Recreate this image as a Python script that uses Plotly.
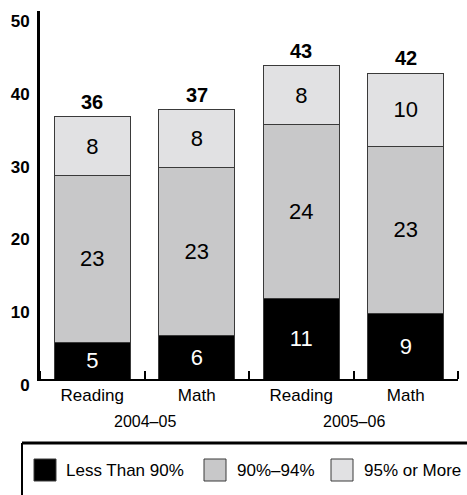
import plotly.graph_objects as go

# Categories and series
subjects = ["Reading", "Math", "Reading", "Math"]
years = ["2004–05", "2005–06"]
series_names = ["Less Than 90%", "90%–94%", "95% or More"]
less_than_90 = [5, 6, 11, 9]
pct_90_94 = [23, 23, 24, 23]
pct_95_up = [8, 8, 8, 10]
totals = [36, 37, 43, 42]
y_ticks = [0, 10, 20, 30, 40, 50]

colors = ["#000000", "#c8c8c9", "#e1e1e3"]
text_colors = ["#ffffff", "#000000", "#000000"]
FONT = "Liberation Sans, Arial, sans-serif"

W, H = 467, 495
L, R, T, B = 40, 9, 11, 116
plot_w = W - L - R
plot_h = H - T - B

x_pos = list(range(len(subjects)))
fig = go.Figure()
for name, vals, col, tcol in zip(series_names, [less_than_90, pct_90_94, pct_95_up], colors, text_colors):
    fig.add_trace(go.Bar(
        x=x_pos, y=vals, name=name, width=0.73,
        marker=dict(color=col, line=dict(color="#3a3a3a", width=1)),
        text=[str(v) for v in vals], textposition="inside",
        insidetextanchor="middle", constraintext="none",
        textfont=dict(family=FONT, size=22, color=tcol),
        showlegend=False, hoverinfo="skip",
    ))

# Totals above each bar
for xi, t in zip(x_pos, totals):
    fig.add_annotation(x=xi, y=t, text=f"<b>{t}</b>", showarrow=False,
                       yanchor="bottom", yshift=2,
                       font=dict(family=FONT, size=20, color="#000"))

# Year group labels
for i, yr in enumerate(years):
    fig.add_annotation(x=2 * i + 0.5, y=0, yref="y", text=yr, showarrow=False,
                       yanchor="middle", yshift=-42,
                       font=dict(family=FONT, size=16, color="#000"))

# Legend drawn as a framed strip below the chart
def px_x(px):
    return (px - L) / plot_w

def px_y(py):
    return (H - B - py) / plot_h

shapes = [
    dict(type="line", xref="paper", yref="paper", x0=px_x(22), x1=px_x(475),
         y0=px_y(443), y1=px_y(443), line=dict(color="#000", width=3)),
    dict(type="line", xref="paper", yref="paper", x0=px_x(22), x1=px_x(22),
         y0=px_y(443), y1=px_y(500), line=dict(color="#000", width=2)),
]
legend_boxes = [34, 204, 331]
legend_text_x = [64, 235, 362]
for bx, tx, name, col in zip(legend_boxes, legend_text_x, series_names, colors):
    shapes.append(dict(type="rect", xref="paper", yref="paper",
                       x0=px_x(bx), x1=px_x(bx + 22), y0=px_y(459), y1=px_y(481),
                       fillcolor=col, line=dict(color="#3a3a3a", width=1)))
    fig.add_annotation(xref="paper", yref="paper", x=px_x(tx), y=px_y(470),
                       text=name, showarrow=False, xanchor="left", yanchor="middle",
                       font=dict(family=FONT, size=17, color="#000"))

fig.update_layout(
    width=W, height=H, margin=dict(l=L, r=R, t=T, b=B),
    barmode="stack", bargap=0.27,
    plot_bgcolor="#ffffff", paper_bgcolor="#ffffff",
    shapes=shapes,
    font=dict(family=FONT, color="#000"),
)
fig.update_xaxes(
    range=[-0.5, 3.5], tickvals=x_pos, ticktext=subjects,
    ticks="", showgrid=False, zeroline=False,
    showline=True, linecolor="#000", linewidth=2,
    tickfont=dict(family=FONT, size=17, color="#000"),
    minor=dict(tick0=0.5, dtick=1, ticks="inside", ticklen=8,
               tickwidth=2, tickcolor="#000", showgrid=False),
)
fig.update_yaxes(
    range=[0, 50.55], tickvals=y_ticks, ticks="", showgrid=False,
    zeroline=False, showline=True, linecolor="#000", linewidth=3,
    ticklabelshift=6, ticklabelstandoff=4,
    tickfont=dict(family=FONT, size=17, color="#000", weight="bold"),
)

fig.write_html("out.html")
